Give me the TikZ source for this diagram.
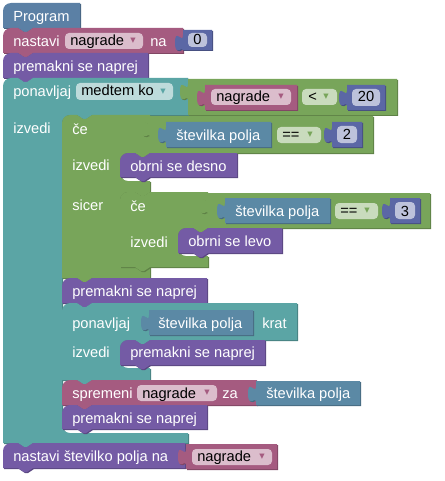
\documentclass[tikz,border=0pt]{standalone}
\usepackage{fontspec}
\setmainfont{Liberation Sans}
\newfontfamily\arrowfont{DejaVu Sans}

\definecolor{cProg}{HTML}{5B80A5}
\definecolor{cVar}{HTML}{A55B80}
\definecolor{cMove}{HTML}{745BA5}
\definecolor{cLoop}{HTML}{5BA5A5}
\definecolor{cLogic}{HTML}{78A55A}
\definecolor{cNum}{HTML}{5B67A5}
\definecolor{cSens}{HTML}{5B89A5}

\tikzset{
  blk/.style={fill=#1, preaction={fill=#1!78!black, transform canvas={shift={(0.75pt,-0.75pt)}}}},
  lbl/.style={text=white, font=\fontsize{11}{13}\selectfont, inner sep=0pt, anchor=base west},
  flbl/.style={lbl, text=black},
  clbl/.style={lbl, text=black, anchor=base},
  ddarrow/.style={font=\arrowfont\fontsize{8}{8}\selectfont, inner sep=0pt, text=#1},
}

% statement block: colour, left, top, right, bottom
\newcommand{\stmtblock}[5]{\path[blk=#1] (#2,#5) -- (#2,#3+8) .. controls (#2,#3+3.6) and (#2+3.6,#3) .. (#2+8,#3)
  -- (#2+15,#3) -- (#2+21,#3+4) -- (#2+24,#3+4) -- (#2+30,#3) -- (#4,#3) -- (#4,#5)
  -- (#2+30,#5) -- (#2+24,#5+4) -- (#2+21,#5+4) -- (#2+15,#5) -- cycle;}
% value block with a puzzle tab on the left: colour, left, top, right, bottom
\newcommand{\valblock}[5]{\path[blk=#1] (#2,#3) -- (#4,#3) -- (#4,#5) -- (#2,#5) -- (#2,#3+20)
  .. controls (#2,#3+15) and (#2-8,#3+28) .. (#2-8,#3+12.5)
  .. controls (#2-8,#3-3) and (#2,#3+15) .. (#2,#3+5) -- cycle;}
% editable / dropdown field background
\newcommand{\fieldbg}[4]{\fill[white, fill opacity=.6, rounded corners=3pt] (#1,#2) rectangle (#3,#4);}

\begin{document}
\begin{tikzpicture}[x=0.75pt, y=-0.75pt]
\useasboundingbox (0,0) rectangle (444,481);

% --- Program
\path[blk=cProg] (3,28) -- (3,11) .. controls (3,6.6) and (6.6,3) .. (11,3) -- (80,3) -- (80,28)
  -- (33,28) -- (27,32) -- (24,32) -- (18,28) -- cycle;
\node[lbl] (tProg) at (13,21.5) {Program};

% --- nastavi nagrade na 0
\stmtblock{cVar}{3}{28}{183}{53}
\node[lbl] (tSet) at (13,46.5) {nastavi};
\fieldbg{65}{33}{143}{49}
\node[flbl] (tSetVar) at (70,45.5) {nagrade};
\node[ddarrow=cVar] (aSetVar) at (133,41) {▾};
\node[lbl] (tSetNa) at (150,46.5) {na};
\valblock{cNum}{183}{30}{212}{50}
\fieldbg{188}{33}{207}{47}
\node[clbl] (tZero) at (197.5,45) {0};

% --- premakni se naprej
\stmtblock{cMove}{3}{53}{148}{78}
\node[lbl] (tMove1) at (13,71.5) {premakni se naprej};

% --- while loop
\path[blk=cLoop] (3,443) -- (3,86) .. controls (3,81.6) and (6.6,78) .. (11,78)
  -- (18,78) -- (24,82) -- (27,82) -- (33,78) -- (188,78) -- (188,115)
  -- (92,115) -- (86,119) -- (83,119) -- (77,115) -- (70,115)
  .. controls (65.6,115) and (62,118.6) .. (62,123) -- (62,425)
  .. controls (62,429.4) and (65.6,433) .. (70,433) -- (188,433) -- (188,443)
  -- (33,443) -- (27,447) -- (24,447) -- (18,443) -- cycle;
\node[lbl] (tWhile) at (13,96.5) {ponavljaj};
\fieldbg{76}{83}{173}{100}
\node[flbl] (tWhileMode) at (81,96) {medtem ko};
\node[ddarrow=cLoop] (aWhileMode) at (163,91.5) {▾};
\node[lbl] (tWhileDo) at (13,133) {izvedi};

% while condition: nagrade < 20
\valblock{cLogic}{188}{79}{397}{115}
\valblock{cVar}{205}{85}{297}{110}
\fieldbg{211}{89}{291}{105}
\node[flbl] (tCondVar) at (216,102) {nagrade};
\node[ddarrow=cVar] (aCondVar) at (281,97) {▾};
\fieldbg{302}{89}{337}{105}
\node[flbl] (tLess) at (308,102) {<};
\node[ddarrow=cLogic] (aLess) at (326,97) {▾};
\valblock{cNum}{347}{85}{385}{110}
\fieldbg{352}{89}{380}{106}
\node[clbl] (tTwenty) at (366,102) {20};

% --- if / else
\path[blk=cLogic] (62,278) -- (62,123) .. controls (62,118.6) and (65.6,115) .. (70,115)
  -- (77,115) -- (83,119) -- (86,119) -- (92,115) -- (150,115) -- (150,153)
  -- (144,157) -- (141,157) -- (135,153) -- (128,153)
  .. controls (123.6,153) and (120,156.6) .. (120,161) -- (120,173)
  .. controls (120,177.4) and (123.6,181) .. (128,181) -- (150,181) -- (150,192)
  -- (144,196) -- (141,196) -- (135,192) -- (128,192)
  .. controls (123.6,192) and (120,195.6) .. (120,200) -- (120,259)
  .. controls (120,263.4) and (123.6,267) .. (128,267) -- (150,267) -- (150,278)
  -- (92,278) -- (86,282) -- (83,282) -- (77,278) -- cycle;
\node[lbl] (tIf) at (72,134) {če};
\node[lbl] (tIfDo) at (72,171) {izvedi};
\node[lbl] (tElse) at (72,210) {sicer};

% if condition: številka polja == 2
\valblock{cLogic}{150}{116}{373}{153}
\valblock{cSens}{166}{122}{271}{147}
\node[lbl] (tField1) at (176,140.5) {številka polja};
\fieldbg{277}{127}{321}{143}
\node[flbl] (tEq1) at (282,139.5) {==};
\node[ddarrow=cLogic] (aEq1) at (310,135) {▾};
\valblock{cNum}{332}{122}{362}{147}
\fieldbg{337}{126}{357}{143}
\node[clbl] (tTwo) at (347,140) {2};

\stmtblock{cMove}{120}{153}{237}{177}
\node[lbl] (tRight) at (130,171.5) {obrni se desno};

% --- nested if
\path[blk=cLogic] (120,267) -- (120,200) .. controls (120,195.6) and (123.6,192) .. (128,192)
  -- (135,192) -- (141,196) -- (144,196) -- (150,192) -- (208,192) -- (208,228)
  -- (202,232) -- (199,232) -- (193,228) -- (186,228)
  .. controls (181.6,228) and (178,231.6) .. (178,236) -- (178,248)
  .. controls (178,252.4) and (181.6,256) .. (186,256) -- (208,256) -- (208,267)
  -- (150,267) -- (144,271) -- (141,271) -- (135,267) -- cycle;
\node[lbl] (tIf2) at (130,211) {če};
\node[lbl] (tIf2Do) at (130,247) {izvedi};

\valblock{cLogic}{208}{193}{430}{228}
\valblock{cSens}{225}{198}{330}{223}
\node[lbl] (tField2) at (235,216.5) {številka polja};
\fieldbg{335}{203}{378}{219}
\node[flbl] (tEq2) at (340,215.5) {==};
\node[ddarrow=cLogic] (aEq2) at (367,211) {▾};
\valblock{cNum}{390}{198}{420}{223}
\fieldbg{395}{202}{415}{219}
\node[clbl] (tThree) at (405,216) {3};

\stmtblock{cMove}{178}{228}{282}{253}
\node[lbl] (tLeft) at (188,246.5) {obrni se levo};

% --- premakni se naprej
\stmtblock{cMove}{62}{278}{207}{303}
\node[lbl] (tMove2) at (72,296.5) {premakni se naprej};

% --- repeat n times
\path[blk=cLoop] (62,380) -- (62,311) .. controls (62,306.6) and (65.6,303) .. (70,303)
  -- (77,303) -- (83,307) -- (86,307) -- (92,303) -- (297,303) -- (297,340)
  -- (150,340) -- (144,344) -- (141,344) -- (135,340) -- (128,340)
  .. controls (123.6,340) and (120,343.6) .. (120,348) -- (120,360)
  .. controls (120,364.4) and (123.6,368) .. (128,368) -- (150,368) -- (150,380)
  -- (92,380) -- (86,384) -- (83,384) -- (77,380) -- cycle;
\node[lbl] (tRepeat) at (72,328.5) {ponavljaj};
\valblock{cSens}{149}{310}{253}{335}
\node[lbl] (tField3) at (158,328.5) {številka polja};
\node[lbl] (tTimes) at (262,328.5) {krat};
\node[lbl] (tRepeatDo) at (72,357.5) {izvedi};
\stmtblock{cMove}{120}{340}{265}{365}
\node[lbl] (tMove3) at (130,357.5) {premakni se naprej};

% --- spremeni nagrade za številka polja
\stmtblock{cVar}{62}{380}{257}{405}
\node[lbl] (tChange) at (72,398.5) {spremeni};
\fieldbg{137}{385}{217}{401}
\node[flbl] (tChangeVar) at (142,398) {nagrade};
\node[ddarrow=cVar] (aChangeVar) at (207,393) {▾};
\node[lbl] (tBy) at (222,398.5) {za};
\valblock{cSens}{256}{381}{360}{405}
\node[lbl] (tField4) at (266,398.5) {številka polja};

% --- premakni se naprej
\stmtblock{cMove}{62}{405}{207}{429}
\node[lbl] (tMove4) at (72,423) {premakni se naprej};

% --- nastavi številko polja na nagrade
\stmtblock{cMove}{3}{443}{185}{468}
\node[lbl] (tSetField) at (13,461.5) {nastavi številko polja na};
\valblock{cVar}{186}{444}{277}{469}
\fieldbg{192}{449}{272}{465}
\node[flbl] (tSetFieldVar) at (197,461.5) {nagrade};
\node[ddarrow=cVar] (aSetFieldVar) at (262,457) {▾};

\end{tikzpicture}
\end{document}
